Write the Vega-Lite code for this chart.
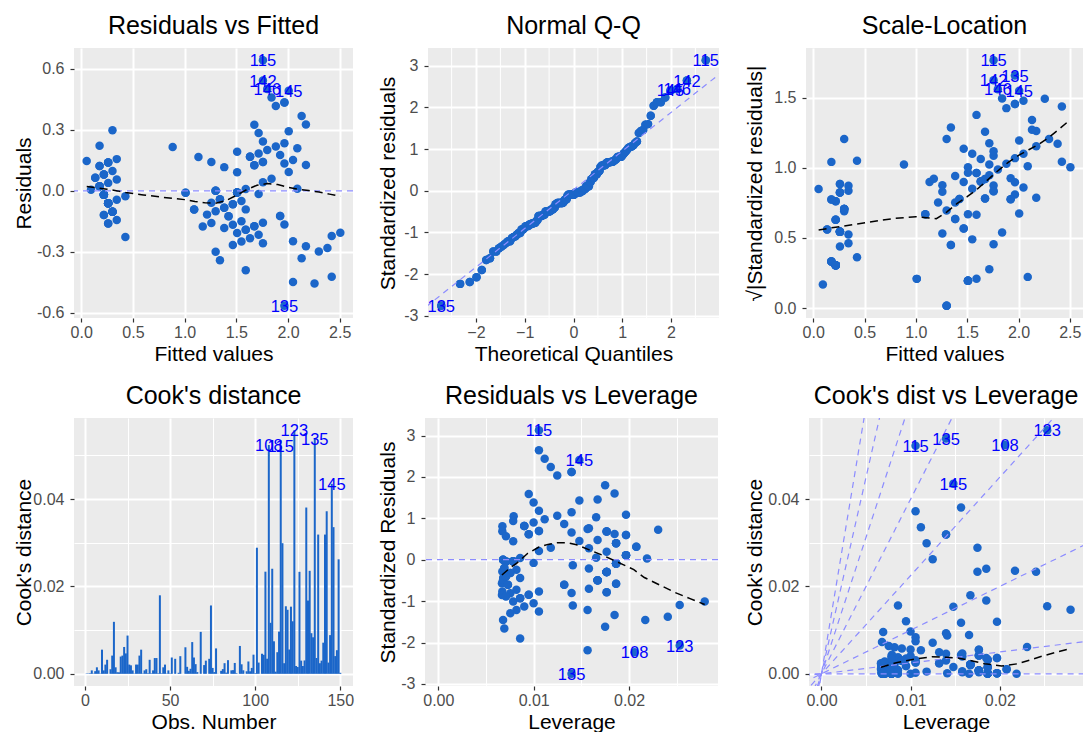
{
"$schema": "https://vega.github.io/schema/vega-lite/v6.json",
"padding": {"left": 12, "top": 13, "right": 3, "bottom": 0},
"background": "white",
"config": {
  "font": "Liberation Sans",
  "view": {"fill": "#EBEBEB", "stroke": null},
  "title": {"font": "Liberation Sans", "fontSize": 25, "fontWeight": "normal", "color": "#000000", "anchor": "middle", "frame": "group", "baseline": "alphabetic", "offset": 9},
  "axis": {"labelFont": "Liberation Sans", "labelFontSize": 16, "labelColor": "#4D4D4D", "tickColor": "#333333", "tickSize": 4, "tickWidth": 1.2, "domain": false, "grid": true, "gridColor": "#FFFFFF", "titleFont": "Liberation Sans", "titleFontSize": 21, "titleFontWeight": "normal", "titleColor": "#000000", "labelOverlap": false, "labelFlush": false, "labelBound": false, "titleBaseline": "alphabetic"},
  "axisX": {"labelPadding": 2, "titleY": 42},
  "axisY": {"labelPadding": 6}
},
"datasets": {
"obs": [
{"i":1,"f":0.219,"e":-0.019,"r":-0.0928,"s":0.3046,"h":0.01864,"c":0.000082},
{"i":2,"f":0.219,"e":-0.019,"r":-0.0928,"s":0.3046,"h":0.01864,"c":0.000082},
{"i":3,"f":0.1774,"e":0.0226,"r":0.1105,"s":0.3324,"h":0.01968,"c":0.000123},
{"i":4,"f":0.2606,"e":-0.0606,"r":-0.2959,"s":0.544,"h":0.01765,"c":0.000786},
{"i":5,"f":0.219,"e":-0.019,"r":-0.0928,"s":0.3046,"h":0.01864,"c":0.000082},
{"i":6,"f":0.3437,"e":0.0563,"r":0.2748,"s":0.5242,"h":0.01579,"c":0.000606},
{"i":7,"f":0.219,"e":0.081,"r":0.3961,"s":0.6294,"h":0.01864,"c":0.00149},
{"i":8,"f":0.2606,"e":-0.0606,"r":-0.2959,"s":0.544,"h":0.01765,"c":0.000786},
{"i":9,"f":0.219,"e":-0.019,"r":-0.0928,"s":0.3046,"h":0.01864,"c":0.000082},
{"i":10,"f":0.2606,"e":-0.1606,"r":-0.7845,"s":0.8857,"h":0.01765,"c":0.005528},
{"i":11,"f":0.2606,"e":-0.0606,"r":-0.2959,"s":0.544,"h":0.01765,"c":0.000786},
{"i":12,"f":0.3021,"e":-0.1021,"r":-0.4988,"s":0.7063,"h":0.0167,"c":0.002112},
{"i":13,"f":0.219,"e":-0.119,"r":-0.5816,"s":0.7626,"h":0.01864,"c":0.003213},
{"i":14,"f":0.0943,"e":0.0057,"r":0.0281,"s":0.1676,"h":0.02188,"c":0.000009},
{"i":15,"f":0.1358,"e":0.0642,"r":0.314,"s":0.5604,"h":0.02076,"c":0.001045},
{"i":16,"f":0.2606,"e":0.1394,"r":0.6813,"s":0.8254,"h":0.01765,"c":0.00417},
{"i":17,"f":0.1774,"e":0.2226,"r":1.0887,"s":1.0434,"h":0.01968,"c":0.011897},
{"i":18,"f":0.219,"e":0.081,"r":0.3961,"s":0.6294,"h":0.01864,"c":0.00149},
{"i":19,"f":0.3437,"e":-0.0437,"r":-0.2134,"s":0.462,"h":0.01579,"c":0.000365},
{"i":20,"f":0.2606,"e":0.0394,"r":0.1927,"s":0.439,"h":0.01765,"c":0.000334},
{"i":21,"f":0.3437,"e":-0.1437,"r":-0.7015,"s":0.8376,"h":0.01579,"c":0.003947},
{"i":22,"f":0.2606,"e":0.1394,"r":0.6813,"s":0.8254,"h":0.01765,"c":0.00417},
{"i":23,"f":0.0527,"e":0.1473,"r":0.7218,"s":0.8496,"h":0.02305,"c":0.006145},
{"i":24,"f":0.3437,"e":0.1563,"r":0.7629,"s":0.8734,"h":0.01579,"c":0.004668},
{"i":25,"f":0.4269,"e":-0.2269,"r":-1.1064,"s":1.0519,"h":0.0141,"c":0.008755},
{"i":26,"f":0.3021,"e":-0.1021,"r":-0.4988,"s":0.7063,"h":0.0167,"c":0.002112},
{"i":27,"f":0.3021,"e":0.0979,"r":0.4779,"s":0.6913,"h":0.0167,"c":0.001939},
{"i":28,"f":0.2606,"e":-0.0606,"r":-0.2959,"s":0.544,"h":0.01765,"c":0.000786},
{"i":29,"f":0.219,"e":-0.019,"r":-0.0928,"s":0.3046,"h":0.01864,"c":0.000082},
{"i":30,"f":0.3021,"e":-0.1021,"r":-0.4988,"s":0.7063,"h":0.0167,"c":0.002112},
{"i":31,"f":0.3021,"e":-0.1021,"r":-0.4988,"s":0.7063,"h":0.0167,"c":0.002112},
{"i":32,"f":0.2606,"e":0.1394,"r":0.6813,"s":0.8254,"h":0.01765,"c":0.00417},
{"i":33,"f":0.2606,"e":-0.1606,"r":-0.7845,"s":0.8857,"h":0.01765,"c":0.005528},
{"i":34,"f":0.219,"e":-0.019,"r":-0.0928,"s":0.3046,"h":0.01864,"c":0.000082},
{"i":35,"f":0.2606,"e":-0.0606,"r":-0.2959,"s":0.544,"h":0.01765,"c":0.000786},
{"i":36,"f":0.1358,"e":0.0642,"r":0.314,"s":0.5604,"h":0.02076,"c":0.001045},
{"i":37,"f":0.1774,"e":0.0226,"r":0.1105,"s":0.3324,"h":0.01968,"c":0.000123},
{"i":38,"f":0.219,"e":-0.119,"r":-0.5816,"s":0.7626,"h":0.01864,"c":0.003213},
{"i":39,"f":0.1774,"e":0.0226,"r":0.1105,"s":0.3324,"h":0.01968,"c":0.000123},
{"i":40,"f":0.2606,"e":-0.0606,"r":-0.2959,"s":0.544,"h":0.01765,"c":0.000786},
{"i":41,"f":0.1774,"e":0.1226,"r":0.5996,"s":0.7743,"h":0.01968,"c":0.003609},
{"i":42,"f":0.1774,"e":0.1226,"r":0.5996,"s":0.7743,"h":0.01968,"c":0.003609},
{"i":43,"f":0.1774,"e":0.0226,"r":0.1105,"s":0.3324,"h":0.01968,"c":0.000123},
{"i":44,"f":0.3021,"e":0.2979,"r":1.4547,"s":1.2061,"h":0.0167,"c":0.017965},
{"i":45,"f":0.4269,"e":-0.0269,"r":-0.131,"s":0.3619,"h":0.0141,"c":0.000123},
{"i":46,"f":0.219,"e":0.081,"r":0.3961,"s":0.6294,"h":0.01864,"c":0.00149},
{"i":47,"f":0.3021,"e":-0.1021,"r":-0.4988,"s":0.7063,"h":0.0167,"c":0.002112},
{"i":48,"f":0.219,"e":-0.019,"r":-0.0928,"s":0.3046,"h":0.01864,"c":0.000082},
{"i":49,"f":0.2606,"e":-0.0606,"r":-0.2959,"s":0.544,"h":0.01765,"c":0.000786},
{"i":50,"f":0.219,"e":-0.019,"r":-0.0928,"s":0.3046,"h":0.01864,"c":0.000082},
{"i":51,"f":1.591,"e":-0.191,"r":-0.9288,"s":0.9638,"h":0.00858,"c":0.003732},
{"i":52,"f":1.5078,"e":-0.0078,"r":-0.038,"s":0.1949,"h":0.00785,"c":0.000006},
{"i":53,"f":1.6741,"e":-0.1741,"r":-0.8473,"s":0.9205,"h":0.00948,"c":0.003433},
{"i":54,"f":1.2999,"e":0.0001,"r":0.0003,"s":0.0163,"h":0.00679,"c":0},
{"i":55,"f":1.5494,"e":-0.0494,"r":-0.2402,"s":0.4901,"h":0.00819,"c":0.000238},
{"i":56,"f":1.5078,"e":-0.2078,"r":-1.0104,"s":1.0052,"h":0.00785,"c":0.00404},
{"i":57,"f":1.591,"e":0.009,"r":0.0439,"s":0.2095,"h":0.00858,"c":0.000008},
{"i":58,"f":1.0089,"e":-0.0089,"r":-0.0433,"s":0.2081,"h":0.00712,"c":0.000007},
{"i":59,"f":1.5494,"e":-0.2494,"r":-1.2127,"s":1.1012,"h":0.00819,"c":0.006075},
{"i":60,"f":1.2584,"e":0.1416,"r":0.6882,"s":0.8296,"h":0.00671,"c":0.001599},
{"i":61,"f":1.0921,"e":-0.0921,"r":-0.4474,"s":0.6689,"h":0.00681,"c":0.000686},
{"i":62,"f":1.3831,"e":0.1169,"r":0.5681,"s":0.7537,"h":0.00709,"c":0.001152},
{"i":63,"f":1.2999,"e":-0.2999,"r":-1.4575,"s":1.2073,"h":0.00679,"c":0.007265},
{"i":64,"f":1.591,"e":-0.191,"r":-0.9288,"s":0.9638,"h":0.00858,"c":0.003732},
{"i":65,"f":1.1336,"e":0.1664,"r":0.8083,"s":0.8991,"h":0.00672,"c":0.00221},
{"i":66,"f":1.4662,"e":-0.0662,"r":-0.322,"s":0.5675,"h":0.00755,"c":0.000395},
{"i":67,"f":1.5078,"e":-0.0078,"r":-0.038,"s":0.1949,"h":0.00785,"c":0.000006},
{"i":68,"f":1.3415,"e":-0.3415,"r":-1.6596,"s":1.2883,"h":0.00692,"c":0.009596},
{"i":69,"f":1.5078,"e":-0.0078,"r":-0.038,"s":0.1949,"h":0.00785,"c":0.000006},
{"i":70,"f":1.2584,"e":-0.1584,"r":-0.7695,"s":0.8772,"h":0.00671,"c":0.002},
{"i":71,"f":1.6325,"e":0.1675,"r":0.8146,"s":0.9026,"h":0.00901,"c":0.003014},
{"i":72,"f":1.2999,"e":0.0001,"r":0.0003,"s":0.0163,"h":0.00679,"c":0},
{"i":73,"f":1.6741,"e":-0.1741,"r":-0.8473,"s":0.9205,"h":0.00948,"c":0.003433},
{"i":74,"f":1.591,"e":-0.391,"r":-1.9015,"s":1.379,"h":0.00858,"c":0.015642},
{"i":75,"f":1.4247,"e":-0.1247,"r":-0.606,"s":0.7785,"h":0.0073,"c":0.00135},
{"i":76,"f":1.4662,"e":-0.0662,"r":-0.322,"s":0.5675,"h":0.00755,"c":0.000395},
{"i":77,"f":1.6325,"e":-0.2325,"r":-1.1313,"s":1.0636,"h":0.00901,"c":0.005814},
{"i":78,"f":1.7157,"e":-0.0157,"r":-0.0764,"s":0.2764,"h":0.00999,"c":0.000029},
{"i":79,"f":1.5078,"e":-0.0078,"r":-0.038,"s":0.1949,"h":0.00785,"c":0.000006},
{"i":80,"f":1.0921,"e":-0.0921,"r":-0.4474,"s":0.6689,"h":0.00681,"c":0.000686},
{"i":81,"f":1.2168,"e":-0.1168,"r":-0.5675,"s":0.7533,"h":0.00667,"c":0.001081},
{"i":82,"f":1.1752,"e":-0.1752,"r":-0.8514,"s":0.9227,"h":0.00667,"c":0.002435},
{"i":83,"f":1.2584,"e":-0.0584,"r":-0.2836,"s":0.5325,"h":0.00671,"c":0.000272},
{"i":84,"f":1.7573,"e":-0.1573,"r":-0.7657,"s":0.875,"h":0.01055,"c":0.003124},
{"i":85,"f":1.5078,"e":-0.0078,"r":-0.038,"s":0.1949,"h":0.00785,"c":0.000006},
{"i":86,"f":1.5078,"e":0.0922,"r":0.4481,"s":0.6694,"h":0.00785,"c":0.000795},
{"i":87,"f":1.591,"e":-0.091,"r":-0.4425,"s":0.6652,"h":0.00858,"c":0.000847},
{"i":88,"f":1.4662,"e":-0.1662,"r":-0.8081,"s":0.8989,"h":0.00755,"c":0.002486},
{"i":89,"f":1.3415,"e":-0.0415,"r":-0.2018,"s":0.4492,"h":0.00692,"c":0.000142},
{"i":90,"f":1.2999,"e":0.0001,"r":0.0003,"s":0.0163,"h":0.00679,"c":0},
{"i":91,"f":1.4662,"e":-0.2662,"r":-1.2942,"s":1.1376,"h":0.00755,"c":0.006375},
{"i":92,"f":1.5494,"e":-0.1494,"r":-0.7265,"s":0.8524,"h":0.00819,"c":0.00218},
{"i":93,"f":1.2999,"e":-0.0999,"r":-0.4857,"s":0.6969,"h":0.00679,"c":0.000807},
{"i":94,"f":1.0089,"e":-0.0089,"r":-0.0433,"s":0.2081,"h":0.00712,"c":0.000007},
{"i":95,"f":1.3831,"e":-0.0831,"r":-0.4038,"s":0.6355,"h":0.00709,"c":0.000582},
{"i":96,"f":1.3831,"e":-0.1831,"r":-0.8898,"s":0.9433,"h":0.00709,"c":0.002826},
{"i":97,"f":1.3831,"e":-0.0831,"r":-0.4038,"s":0.6355,"h":0.00709,"c":0.000582},
{"i":98,"f":1.4247,"e":-0.1247,"r":-0.606,"s":0.7785,"h":0.0073,"c":0.00135},
{"i":99,"f":0.8842,"e":0.2158,"r":1.0492,"s":1.0243,"h":0.0079,"c":0.004385},
{"i":100,"f":1.3415,"e":-0.0415,"r":-0.2018,"s":0.4492,"h":0.00692,"c":0.000142},
{"i":101,"f":2.1315,"e":0.3685,"r":1.8005,"s":1.3418,"h":0.01749,"c":0.02886},
{"i":102,"f":1.7573,"e":0.1427,"r":0.6948,"s":0.8335,"h":0.01055,"c":0.002573},
{"i":103,"f":2.0899,"e":0.0101,"r":0.0494,"s":0.2223,"h":0.01655,"c":0.000021},
{"i":104,"f":1.9652,"e":-0.1652,"r":-0.8054,"s":0.8974,"h":0.01397,"c":0.004597},
{"i":105,"f":2.0483,"e":0.1517,"r":0.7404,"s":0.8605,"h":0.01565,"c":0.004357},
{"i":106,"f":2.3809,"e":-0.2809,"r":-1.377,"s":1.1735,"h":0.02406,"c":0.023375},
{"i":107,"f":1.5078,"e":0.1922,"r":0.9343,"s":0.9666,"h":0.00785,"c":0.003454},
{"i":108,"f":2.2562,"e":-0.4562,"r":-2.2322,"s":1.4941,"h":0.02058,"c":0.052358,"lc":"108"},
{"i":109,"f":2.0483,"e":-0.2483,"r":-1.212,"s":1.1009,"h":0.01565,"c":0.011674},
{"i":110,"f":2.173,"e":0.327,"r":1.5982,"s":1.2642,"h":0.01848,"c":0.024046},
{"i":111,"f":1.7573,"e":0.2427,"r":1.1817,"s":1.0871,"h":0.01055,"c":0.007441},
{"i":112,"f":1.8404,"e":0.0596,"r":0.2902,"s":0.5387,"h":0.01179,"c":0.000502},
{"i":113,"f":1.9236,"e":0.1764,"r":0.86,"s":0.9274,"h":0.0132,"c":0.004948},
{"i":114,"f":1.7157,"e":0.2843,"r":1.3837,"s":1.1763,"h":0.00999,"c":0.009659},
{"i":115,"f":1.7573,"e":0.6427,"r":3.129,"s":1.7689,"h":0.01055,"c":0.052175,"lr":"115","lc":"115"},
{"i":116,"f":1.8404,"e":0.4596,"r":2.2388,"s":1.4963,"h":0.01179,"c":0.029892},
{"i":117,"f":1.9236,"e":-0.1236,"r":-0.6024,"s":0.7761,"h":0.0132,"c":0.002428},
{"i":118,"f":2.4225,"e":-0.2225,"r":-1.0913,"s":1.0447,"h":0.02531,"c":0.015462},
{"i":119,"f":2.5056,"e":-0.2056,"r":-1.01,"s":1.005,"h":0.02793,"c":0.014654},
{"i":120,"f":1.7157,"e":-0.2157,"r":-1.0498,"s":1.0246,"h":0.00999,"c":0.00556},
{"i":121,"f":2.0067,"e":0.2933,"r":1.4308,"s":1.1962,"h":0.01479,"c":0.015367},
{"i":122,"f":1.6741,"e":0.3259,"r":1.5856,"s":1.2592,"h":0.00948,"c":0.012025},
{"i":123,"f":2.4225,"e":-0.4225,"r":-2.0723,"s":1.4396,"h":0.02531,"c":0.055755,"lc":"123"},
{"i":124,"f":1.6741,"e":0.1259,"r":0.6125,"s":0.7826,"h":0.00948,"c":0.001794},
{"i":125,"f":2.0067,"e":0.0933,"r":0.4551,"s":0.6746,"h":0.01479,"c":0.001554},
{"i":126,"f":2.1315,"e":-0.3315,"r":-1.6193,"s":1.2725,"h":0.01749,"c":0.023343},
{"i":127,"f":1.6325,"e":0.1675,"r":0.8146,"s":0.9026,"h":0.00901,"c":0.003014},
{"i":128,"f":1.6741,"e":0.1259,"r":0.6125,"s":0.7826,"h":0.00948,"c":0.001794},
{"i":129,"f":1.9652,"e":0.1348,"r":0.6576,"s":0.8109,"h":0.01397,"c":0.003064},
{"i":130,"f":2.0483,"e":-0.4483,"r":-2.1882,"s":1.4793,"h":0.01565,"c":0.038055},
{"i":131,"f":2.173,"e":-0.273,"r":-1.3346,"s":1.1553,"h":0.01848,"c":0.016767},
{"i":132,"f":2.2978,"e":-0.2978,"r":-1.4578,"s":1.2074,"h":0.0217,"c":0.023571},
{"i":133,"f":1.9652,"e":0.2348,"r":1.1453,"s":1.0702,"h":0.01397,"c":0.009295},
{"i":134,"f":1.7573,"e":-0.2573,"r":-1.2525,"s":1.1192,"h":0.01055,"c":0.00836},
{"i":135,"f":1.9652,"e":-0.5652,"r":-2.7561,"s":1.6601,"h":0.01397,"c":0.053827,"lr":"135","lc":"135"},
{"i":136,"f":2.173,"e":0.127,"r":0.6206,"s":0.7878,"h":0.01848,"c":0.003626},
{"i":137,"f":1.9652,"e":0.4348,"r":2.1207,"s":1.4563,"h":0.01397,"c":0.031867},
{"i":138,"f":1.9236,"e":-0.1236,"r":-0.6024,"s":0.7761,"h":0.0132,"c":0.002428},
{"i":139,"f":1.6325,"e":0.1675,"r":0.8146,"s":0.9026,"h":0.00901,"c":0.003014},
{"i":140,"f":1.882,"e":0.218,"r":1.0623,"s":1.0307,"h":0.01247,"c":0.007127},
{"i":141,"f":1.9652,"e":0.4348,"r":2.1207,"s":1.4563,"h":0.01397,"c":0.031867},
{"i":142,"f":1.7573,"e":0.5427,"r":2.6422,"s":1.6255,"h":0.01055,"c":0.037202,"lr":"142"},
{"i":143,"f":1.7573,"e":0.1427,"r":0.6948,"s":0.8335,"h":0.01055,"c":0.002573},
{"i":144,"f":2.0899,"e":0.2101,"r":1.0261,"s":1.013,"h":0.01655,"c":0.008857},
{"i":145,"f":2.0067,"e":0.4933,"r":2.4066,"s":1.5513,"h":0.01479,"c":0.043472,"lr":"145","lc":"145"},
{"i":146,"f":1.7989,"e":0.5011,"r":2.4405,"s":1.5622,"h":0.01115,"c":0.033563,"lr":"146"},
{"i":147,"f":1.7157,"e":0.1843,"r":0.897,"s":0.9471,"h":0.00999,"c":0.004059},
{"i":148,"f":1.7989,"e":0.2011,"r":0.9796,"s":0.9897,"h":0.01115,"c":0.005407},
{"i":149,"f":1.882,"e":0.418,"r":2.0369,"s":1.4272,"h":0.01247,"c":0.026202},
{"i":150,"f":1.7573,"e":0.0427,"r":0.208,"s":0.4561,"h":0.01055,"c":0.000231}
],
"qq": [
{"tq":-2.713,"sv":-2.7561,"l":"135"},{"tq":-2.326,"sv":-2.2322},{"tq":-2.128,"sv":-2.1882},{"tq":-1.989,"sv":-2.0723},{"tq":-1.881,"sv":-1.9015},
{"tq":-1.791,"sv":-1.6596},{"tq":-1.713,"sv":-1.6193},{"tq":-1.645,"sv":-1.4578},{"tq":-1.583,"sv":-1.4575},{"tq":-1.528,"sv":-1.377},
{"tq":-1.476,"sv":-1.3346},{"tq":-1.428,"sv":-1.2942},{"tq":-1.383,"sv":-1.2525},{"tq":-1.341,"sv":-1.2127},{"tq":-1.301,"sv":-1.212},
{"tq":-1.263,"sv":-1.1313},{"tq":-1.227,"sv":-1.1064},{"tq":-1.192,"sv":-1.0913},{"tq":-1.158,"sv":-1.0498},{"tq":-1.126,"sv":-1.0104},
{"tq":-1.095,"sv":-1.01},{"tq":-1.065,"sv":-0.9288},{"tq":-1.036,"sv":-0.9288},{"tq":-1.008,"sv":-0.8898},{"tq":-0.981,"sv":-0.8514},
{"tq":-0.954,"sv":-0.8473},{"tq":-0.928,"sv":-0.8473},{"tq":-0.903,"sv":-0.8081},{"tq":-0.878,"sv":-0.8054},{"tq":-0.854,"sv":-0.7845},
{"tq":-0.83,"sv":-0.7845},{"tq":-0.806,"sv":-0.7695},{"tq":-0.784,"sv":-0.7657},{"tq":-0.761,"sv":-0.7265},{"tq":-0.739,"sv":-0.7015},
{"tq":-0.717,"sv":-0.606},{"tq":-0.696,"sv":-0.606},{"tq":-0.674,"sv":-0.6024},{"tq":-0.654,"sv":-0.6024},{"tq":-0.633,"sv":-0.5816},
{"tq":-0.613,"sv":-0.5816},{"tq":-0.593,"sv":-0.5675},{"tq":-0.573,"sv":-0.4988},{"tq":-0.553,"sv":-0.4988},{"tq":-0.534,"sv":-0.4988},
{"tq":-0.515,"sv":-0.4988},{"tq":-0.496,"sv":-0.4988},{"tq":-0.477,"sv":-0.4857},{"tq":-0.459,"sv":-0.4474},{"tq":-0.44,"sv":-0.4474},
{"tq":-0.421,"sv":-0.4425},{"tq":-0.403,"sv":-0.4038},{"tq":-0.385,"sv":-0.4038},{"tq":-0.367,"sv":-0.322},{"tq":-0.349,"sv":-0.322},
{"tq":-0.332,"sv":-0.2959},{"tq":-0.314,"sv":-0.2959},{"tq":-0.297,"sv":-0.2959},{"tq":-0.279,"sv":-0.2959},{"tq":-0.262,"sv":-0.2959},
{"tq":-0.244,"sv":-0.2959},{"tq":-0.228,"sv":-0.2959},{"tq":-0.21,"sv":-0.2836},{"tq":-0.193,"sv":-0.2402},{"tq":-0.176,"sv":-0.2134},
{"tq":-0.159,"sv":-0.2018},{"tq":-0.142,"sv":-0.2018},{"tq":-0.126,"sv":-0.131},{"tq":-0.109,"sv":-0.0928},{"tq":-0.092,"sv":-0.0928},
{"tq":-0.075,"sv":-0.0928},{"tq":-0.059,"sv":-0.0928},{"tq":-0.042,"sv":-0.0928},{"tq":-0.025,"sv":-0.0928},{"tq":-0.008,"sv":-0.0928},
{"tq":0.008,"sv":-0.0928},{"tq":0.025,"sv":-0.0764},{"tq":0.042,"sv":-0.0433},{"tq":0.059,"sv":-0.0433},{"tq":0.075,"sv":-0.038},
{"tq":0.092,"sv":-0.038},{"tq":0.109,"sv":-0.038},{"tq":0.126,"sv":-0.038},{"tq":0.142,"sv":-0.038},{"tq":0.159,"sv":0.0003},
{"tq":0.176,"sv":0.0003},{"tq":0.193,"sv":0.0003},{"tq":0.21,"sv":0.0281},{"tq":0.228,"sv":0.0439},{"tq":0.244,"sv":0.0494},
{"tq":0.262,"sv":0.1105},{"tq":0.279,"sv":0.1105},{"tq":0.297,"sv":0.1105},{"tq":0.314,"sv":0.1105},{"tq":0.332,"sv":0.1927},
{"tq":0.349,"sv":0.208},{"tq":0.367,"sv":0.2748},{"tq":0.385,"sv":0.2902},{"tq":0.403,"sv":0.314},{"tq":0.421,"sv":0.314},
{"tq":0.44,"sv":0.3961},{"tq":0.459,"sv":0.3961},{"tq":0.477,"sv":0.3961},{"tq":0.496,"sv":0.4481},{"tq":0.515,"sv":0.4551},
{"tq":0.534,"sv":0.4779},{"tq":0.553,"sv":0.5681},{"tq":0.573,"sv":0.5996},{"tq":0.593,"sv":0.5996},{"tq":0.613,"sv":0.6125},
{"tq":0.633,"sv":0.6125},{"tq":0.654,"sv":0.6206},{"tq":0.674,"sv":0.6576},{"tq":0.696,"sv":0.6813},{"tq":0.717,"sv":0.6813},
{"tq":0.739,"sv":0.6813},{"tq":0.761,"sv":0.6882},{"tq":0.784,"sv":0.6948},{"tq":0.806,"sv":0.6948},{"tq":0.83,"sv":0.7218},
{"tq":0.854,"sv":0.7404},{"tq":0.878,"sv":0.7629},{"tq":0.903,"sv":0.8083},{"tq":0.928,"sv":0.8146},{"tq":0.954,"sv":0.8146},
{"tq":0.981,"sv":0.8146},{"tq":1.008,"sv":0.86},{"tq":1.036,"sv":0.897},{"tq":1.065,"sv":0.9343},{"tq":1.095,"sv":0.9796},
{"tq":1.126,"sv":1.0261},{"tq":1.158,"sv":1.0492},{"tq":1.192,"sv":1.0623},{"tq":1.227,"sv":1.0887},{"tq":1.263,"sv":1.1453},
{"tq":1.301,"sv":1.1817},{"tq":1.341,"sv":1.3837},{"tq":1.383,"sv":1.4308},{"tq":1.428,"sv":1.4547},{"tq":1.476,"sv":1.5856},
{"tq":1.528,"sv":1.5982},{"tq":1.583,"sv":1.8005},{"tq":1.645,"sv":2.0369},{"tq":1.713,"sv":2.1207},{"tq":1.791,"sv":2.1207},
{"tq":1.881,"sv":2.2388},{"tq":1.989,"sv":2.4066,"l":"145"},{"tq":2.128,"sv":2.4405,"l":"146"},{"tq":2.326,"sv":2.6422,"l":"142"},{"tq":2.713,"sv":3.129,"l":"115"}
],
"qqline": [{"lx":-3.2,"ly":-2.944},{"lx":3.2,"ly":2.99}],
"s1": [{"x":0.053,"y":0.021},{"x":0.15,"y":0.015},{"x":0.25,"y":0.008},{"x":0.35,"y":0.0},{"x":0.43,"y":-0.008},{"x":0.6,"y":-0.02},{"x":0.8,"y":-0.032},{"x":1.0,"y":-0.043},{"x":1.1,"y":-0.052},{"x":1.2,"y":-0.059},{"x":1.3,"y":-0.061},{"x":1.4,"y":-0.048},{"x":1.5,"y":-0.022},{"x":1.6,"y":0.006},{"x":1.7,"y":0.028},{"x":1.8,"y":0.036},{"x":1.9,"y":0.031},{"x":2.0,"y":0.018},{"x":2.1,"y":0.008},{"x":2.2,"y":0.002},{"x":2.3,"y":-0.006},{"x":2.4,"y":-0.016},{"x":2.5056,"y":-0.027}],
"s3": [{"x":0.053,"y":0.557},{"x":0.2,"y":0.575},{"x":0.43,"y":0.6},{"x":0.6,"y":0.62},{"x":0.8,"y":0.64},{"x":1.0,"y":0.652},{"x":1.1,"y":0.645},{"x":1.2,"y":0.638},{"x":1.3,"y":0.685},{"x":1.4,"y":0.745},{"x":1.5,"y":0.795},{"x":1.6,"y":0.85},{"x":1.7,"y":0.915},{"x":1.8,"y":0.98},{"x":1.9,"y":1.04},{"x":2.0,"y":1.09},{"x":2.1,"y":1.13},{"x":2.2,"y":1.17},{"x":2.3,"y":1.22},{"x":2.4,"y":1.28},{"x":2.5056,"y":1.345}],
"s5": [{"x":0.00667,"y":-0.37},{"x":0.0075,"y":-0.2},{"x":0.0083,"y":-0.07},{"x":0.00935,"y":0.15},{"x":0.0105,"y":0.3},{"x":0.0115,"y":0.37},{"x":0.0125,"y":0.41},{"x":0.0135,"y":0.41},{"x":0.0145,"y":0.36},{"x":0.0157,"y":0.25},{"x":0.0174,"y":0.09},{"x":0.0192,"y":-0.1},{"x":0.0205,"y":-0.24},{"x":0.0216,"y":-0.43},{"x":0.0232,"y":-0.61},{"x":0.0248,"y":-0.79},{"x":0.0264,"y":-0.94},{"x":0.02793,"y":-1.08}],
"s6": [{"x":0.00667,"y":0.0015},{"x":0.0085,"y":0.0026},{"x":0.0105,"y":0.0034},{"x":0.0124,"y":0.0039},{"x":0.014,"y":0.0038},{"x":0.0153,"y":0.0036},{"x":0.0168,"y":0.003},{"x":0.0183,"y":0.0023},{"x":0.0202,"y":0.0018},{"x":0.022,"y":0.0023},{"x":0.025,"y":0.0042},{"x":0.02793,"y":0.0058}],
"cl": [
{"b":"0","h":-0.002,"c":0},{"b":"0","h":0.031,"c":0},
{"b":"0.5","h":-0.002,"c":-0.0005},{"b":"0.5","h":0.031,"c":0.00775},
{"b":"1","h":-0.002,"c":-0.002},{"b":"1","h":0.031,"c":0.031},
{"b":"1.5","h":-0.002,"c":-0.0045},{"b":"1.5","h":0.031,"c":0.06975},
{"b":"2","h":-0.002,"c":-0.008},{"b":"2","h":0.031,"c":0.124},
{"b":"2.5","h":-0.002,"c":-0.0125},{"b":"2.5","h":0.031,"c":0.19375},
{"b":"3","h":-0.002,"c":-0.018},{"b":"3","h":0.031,"c":0.279},
{"b":"3.5","h":-0.002,"c":-0.0245},{"b":"3.5","h":0.031,"c":0.37975}
]
},
"spacing": 20,
"vconcat": [
{
"hconcat": [
{
"width": 279, "height": 270,
"title": "Residuals vs Fitted",
"layer": [
{"data": {"name": "obs"}, "mark": {"type": "circle", "size": 72, "color": "#1B66C9", "opacity": 1},
 "encoding": {
  "x": {"field": "f", "type": "quantitative", "title": "Fitted values", "scale": {"domain": [-0.07, 2.6283], "nice": false, "zero": false},
        "axis": {"values": [0,0.25,0.5,0.75,1,1.25,1.5,1.75,2,2.25,2.5], "labelOverlap": false,
                 "labelExpr": "indexof([0.25,0.75,1.25,1.75,2.25], datum.value) >= 0 ? '' : format(datum.value, '.1f')",
                 "gridWidth": {"condition": {"test": "indexof([0.25,0.75,1.25,1.75,2.25], datum.value) >= 0", "value": 1}, "value": 2},
                 "tickOpacity": {"condition": {"test": "indexof([0.25,0.75,1.25,1.75,2.25], datum.value) >= 0", "value": 0}, "value": 1}}},
  "y": {"field": "e", "type": "quantitative", "title": "Residuals", "scale": {"domain": [-0.6255, 0.7031], "nice": false, "zero": false},
        "axis": {"values": [-0.6,-0.45,-0.3,-0.15,0,0.15,0.3,0.45,0.6], "titleX": -44, "labelOverlap": false,
                 "labelExpr": "indexof([-0.45,-0.15,0.15,0.45], datum.value) >= 0 ? '' : replace(format(datum.value, '.1f'), '\u2212', '-')",
                 "gridWidth": {"condition": {"test": "indexof([-0.45,-0.15,0.15,0.45], datum.value) >= 0", "value": 1}, "value": 2},
                 "tickOpacity": {"condition": {"test": "indexof([-0.45,-0.15,0.15,0.45], datum.value) >= 0", "value": 0}, "value": 1}}}
 }},
{"data": {"values": [{}]}, "mark": {"type": "rule", "color": "#8C8CFF", "strokeDash": [6,5], "strokeWidth": 1.2},
 "encoding": {"y": {"datum": 0, "type": "quantitative", "scale": {"domain": [-0.6255, 0.7031], "nice": false, "zero": false}}}},
{"data": {"name": "s1"}, "mark": {"type": "line", "color": "#000000", "strokeDash": [8,5], "strokeWidth": 1.5},
 "encoding": {
  "x": {"field": "x", "type": "quantitative", "title": "Fitted values", "scale": {"domain": [-0.07, 2.6283], "nice": false, "zero": false}},
  "y": {"field": "y", "type": "quantitative", "title": "Residuals", "scale": {"domain": [-0.6255, 0.7031], "nice": false, "zero": false}}}},
{"data": {"name": "obs"}, "transform": [{"filter": {"field": "lr", "valid": true}}],
 "mark": {"type": "text", "color": "#0000FF", "fontSize": 16.5, "font": "Liberation Sans", "align": "center", "baseline": "middle", "dy": 1},
 "encoding": {
  "x": {"field": "f", "type": "quantitative", "title": "Fitted values", "scale": {"domain": [-0.07, 2.6283], "nice": false, "zero": false}},
  "y": {"field": "e", "type": "quantitative", "title": "Residuals", "scale": {"domain": [-0.6255, 0.7031], "nice": false, "zero": false}},
  "text": {"field": "lr"}}}
]
},
{"width": 75, "height": 270, "view": {"fill": "white", "stroke": null}, "data": {"values": [{}]}, "mark": {"type": "point", "opacity": 0}},
{
"width": 291, "height": 270,
"title": "Normal Q-Q",
"layer": [
{"data": {"name": "qq"}, "mark": {"type": "circle", "size": 72, "color": "#1B66C9", "opacity": 1},
 "encoding": {
  "x": {"field": "tq", "type": "quantitative", "title": "Theoretical Quantiles", "scale": {"domain": [-2.9844, 2.9844], "nice": false, "zero": false},
        "axis": {"values": [-2,-1,0,1,2], "format": "d", "gridWidth": 2}},
  "y": {"field": "sv", "type": "quantitative", "title": "Standardized residuals", "scale": {"domain": [-3.0504, 3.4233], "nice": false, "zero": false},
        "axis": {"values": [-3,-2.5,-2,-1.5,-1,-0.5,0,0.5,1,1.5,2,2.5,3], "titleX": -34, "labelOverlap": false,
                 "labelExpr": "indexof([-2.5,-1.5,-0.5,0.5,1.5,2.5], datum.value) >= 0 ? '' : replace(format(datum.value, 'd'), '\u2212', '-')",
                 "gridWidth": {"condition": {"test": "indexof([-2.5,-1.5,-0.5,0.5,1.5,2.5], datum.value) >= 0", "value": 1}, "value": 2},
                 "tickOpacity": {"condition": {"test": "indexof([-2.5,-1.5,-0.5,0.5,1.5,2.5], datum.value) >= 0", "value": 0}, "value": 1}}}
 }},
{"data": {"values": [{}]}, "mark": {"type": "rule", "color": "#FFFFFF", "strokeWidth": 1}, "encoding": {"x": {"datum": -2.5, "type": "quantitative", "scale": {"domain": [-2.9844, 2.9844], "nice": false, "zero": false}}}},
{"data": {"values": [{}]}, "mark": {"type": "rule", "color": "#FFFFFF", "strokeWidth": 1}, "encoding": {"x": {"datum": -1.5, "type": "quantitative", "scale": {"domain": [-2.9844, 2.9844], "nice": false, "zero": false}}}},
{"data": {"values": [{}]}, "mark": {"type": "rule", "color": "#FFFFFF", "strokeWidth": 1}, "encoding": {"x": {"datum": -0.5, "type": "quantitative", "scale": {"domain": [-2.9844, 2.9844], "nice": false, "zero": false}}}},
{"data": {"values": [{}]}, "mark": {"type": "rule", "color": "#FFFFFF", "strokeWidth": 1}, "encoding": {"x": {"datum": 0.5, "type": "quantitative", "scale": {"domain": [-2.9844, 2.9844], "nice": false, "zero": false}}}},
{"data": {"values": [{}]}, "mark": {"type": "rule", "color": "#FFFFFF", "strokeWidth": 1}, "encoding": {"x": {"datum": 1.5, "type": "quantitative", "scale": {"domain": [-2.9844, 2.9844], "nice": false, "zero": false}}}},
{"data": {"values": [{}]}, "mark": {"type": "rule", "color": "#FFFFFF", "strokeWidth": 1}, "encoding": {"x": {"datum": 2.5, "type": "quantitative", "scale": {"domain": [-2.9844, 2.9844], "nice": false, "zero": false}}}},
{"data": {"name": "qq"}, "mark": {"type": "circle", "size": 72, "color": "#1B66C9", "opacity": 1},
 "encoding": {
  "x": {"field": "tq", "type": "quantitative", "title": "Theoretical Quantiles", "scale": {"domain": [-2.9844, 2.9844], "nice": false, "zero": false}},
  "y": {"field": "sv", "type": "quantitative", "title": "Standardized residuals", "scale": {"domain": [-3.0504, 3.4233], "nice": false, "zero": false}}}},
{"data": {"name": "qqline"}, "mark": {"type": "line", "color": "#8C8CFF", "strokeDash": [6,5], "strokeWidth": 1.2, "clip": true},
 "encoding": {
  "x": {"field": "lx", "type": "quantitative", "title": "Theoretical Quantiles", "scale": {"domain": [-2.9844, 2.9844], "nice": false, "zero": false}},
  "y": {"field": "ly", "type": "quantitative", "title": "Standardized residuals", "scale": {"domain": [-3.0504, 3.4233], "nice": false, "zero": false}}}},
{"data": {"name": "qq"}, "transform": [{"filter": {"field": "l", "valid": true}}],
 "mark": {"type": "text", "color": "#0000FF", "fontSize": 16.5, "font": "Liberation Sans", "align": "center", "baseline": "middle", "dy": 1},
 "encoding": {
  "x": {"field": "tq", "type": "quantitative", "title": "Theoretical Quantiles", "scale": {"domain": [-2.9844, 2.9844], "nice": false, "zero": false}},
  "y": {"field": "sv", "type": "quantitative", "title": "Standardized residuals", "scale": {"domain": [-3.0504, 3.4233], "nice": false, "zero": false}},
  "text": {"field": "l"}}}
]
},
{"width": 87, "height": 270, "view": {"fill": "white", "stroke": null}, "data": {"values": [{}]}, "mark": {"type": "point", "opacity": 0}},
{
"width": 277, "height": 270,
"title": "Scale-Location",
"layer": [
{"data": {"name": "obs"}, "mark": {"type": "circle", "size": 72, "color": "#1B66C9", "opacity": 1},
 "encoding": {
  "x": {"field": "f", "type": "quantitative", "title": "Fitted values", "scale": {"domain": [-0.07, 2.6283], "nice": false, "zero": false},
        "axis": {"values": [0,0.25,0.5,0.75,1,1.25,1.5,1.75,2,2.25,2.5], "labelOverlap": false,
                 "labelExpr": "indexof([0.25,0.75,1.25,1.75,2.25], datum.value) >= 0 ? '' : format(datum.value, '.1f')",
                 "gridWidth": {"condition": {"test": "indexof([0.25,0.75,1.25,1.75,2.25], datum.value) >= 0", "value": 1}, "value": 2},
                 "tickOpacity": {"condition": {"test": "indexof([0.25,0.75,1.25,1.75,2.25], datum.value) >= 0", "value": 0}, "value": 1}}},
  "y": {"field": "s", "type": "quantitative", "title": "√|Standardized residuals|", "scale": {"domain": [-0.0713, 1.8565], "nice": false, "zero": false},
        "axis": {"values": [0,0.25,0.5,0.75,1,1.25,1.5,1.75], "titleX": -45, "labelOverlap": false,
                 "labelExpr": "indexof([0.25,0.75,1.25,1.75], datum.value) >= 0 ? '' : format(datum.value, '.1f')",
                 "gridWidth": {"condition": {"test": "indexof([0.25,0.75,1.25,1.75], datum.value) >= 0", "value": 1}, "value": 2},
                 "tickOpacity": {"condition": {"test": "indexof([0.25,0.75,1.25,1.75], datum.value) >= 0", "value": 0}, "value": 1}}}
 }},
{"data": {"name": "s3"}, "mark": {"type": "line", "color": "#000000", "strokeDash": [8,5], "strokeWidth": 1.5},
 "encoding": {
  "x": {"field": "x", "type": "quantitative", "title": "Fitted values", "scale": {"domain": [-0.07, 2.6283], "nice": false, "zero": false}},
  "y": {"field": "y", "type": "quantitative", "title": "√|Standardized residuals|", "scale": {"domain": [-0.0713, 1.8565], "nice": false, "zero": false}}}},
{"data": {"name": "obs"}, "transform": [{"filter": {"field": "lr", "valid": true}}],
 "mark": {"type": "text", "color": "#0000FF", "fontSize": 16.5, "font": "Liberation Sans", "align": "center", "baseline": "middle", "dy": 1},
 "encoding": {
  "x": {"field": "f", "type": "quantitative", "title": "Fitted values", "scale": {"domain": [-0.07, 2.6283], "nice": false, "zero": false}},
  "y": {"field": "s", "type": "quantitative", "title": "√|Standardized residuals|", "scale": {"domain": [-0.0713, 1.8565], "nice": false, "zero": false}},
  "text": {"field": "lr"}}}
]
}
],
"spacing": 0,
"bounds": "flush"
},
{
"hconcat": [
{
"width": 279, "height": 268,
"title": "Cook's distance",
"layer": [
{"data": {"name": "obs"}, "mark": {"type": "rule", "color": "#1B66C9", "strokeWidth": 2},
 "encoding": {
  "x": {"field": "i", "type": "quantitative", "title": "Obs. Number", "scale": {"domain": [-6.45, 157.45], "nice": false, "zero": false},
        "axis": {"values": [0,25,50,75,100,125,150], "labelOverlap": false,
                 "labelExpr": "indexof([25,75,125], datum.value) >= 0 ? '' : format(datum.value, 'd')",
                 "gridWidth": {"condition": {"test": "indexof([25,75,125], datum.value) >= 0", "value": 1}, "value": 2},
                 "tickOpacity": {"condition": {"test": "indexof([25,75,125], datum.value) >= 0", "value": 0}, "value": 1}}},
  "y": {"field": "c", "type": "quantitative", "title": "Cook's distance", "scale": {"domain": [-0.002788, 0.058543], "nice": false, "zero": false},
        "axis": {"values": [0,0.01,0.02,0.03,0.04,0.05], "titleX": -44, "labelOverlap": false,
                 "labelExpr": "indexof([0.01,0.03,0.05], datum.value) >= 0 ? '' : format(datum.value, '.2f')",
                 "gridWidth": {"condition": {"test": "indexof([0.01,0.03,0.05], datum.value) >= 0", "value": 1}, "value": 2},
                 "tickOpacity": {"condition": {"test": "indexof([0.01,0.03,0.05], datum.value) >= 0", "value": 0}, "value": 1}}},
  "y2": {"datum": 0}
 }},
{"data": {"name": "obs"}, "transform": [{"filter": {"field": "lc", "valid": true}}],
 "mark": {"type": "text", "color": "#0000FF", "fontSize": 16.5, "font": "Liberation Sans", "align": "center", "baseline": "middle", "dy": 1},
 "encoding": {
  "x": {"field": "i", "type": "quantitative", "title": "Obs. Number", "scale": {"domain": [-6.45, 157.45], "nice": false, "zero": false}},
  "y": {"field": "c", "type": "quantitative", "title": "Cook's distance", "scale": {"domain": [-0.002788, 0.058543], "nice": false, "zero": false}},
  "text": {"field": "lc"}}}
]
},
{"width": 72, "height": 268, "view": {"fill": "white", "stroke": null}, "data": {"values": [{}]}, "mark": {"type": "point", "opacity": 0}},
{
"width": 293, "height": 268,
"title": "Residuals vs Leverage",
"layer": [
{"data": {"name": "obs"}, "mark": {"type": "circle", "size": 72, "color": "#1B66C9", "opacity": 1},
 "encoding": {
  "x": {"field": "h", "type": "quantitative", "title": "Leverage", "scale": {"domain": [-0.0013964, 0.0293244], "nice": false, "zero": false},
        "axis": {"values": [0,0.005,0.01,0.015,0.02,0.025], "labelOverlap": false,
                 "labelExpr": "indexof([0.005,0.015,0.025], datum.value) >= 0 ? '' : format(datum.value, '.2f')",
                 "gridWidth": {"condition": {"test": "indexof([0.005,0.015,0.025], datum.value) >= 0", "value": 1}, "value": 2},
                 "tickOpacity": {"condition": {"test": "indexof([0.005,0.015,0.025], datum.value) >= 0", "value": 0}, "value": 1}}},
  "y": {"field": "r", "type": "quantitative", "title": "Standardized Residuals", "scale": {"domain": [-3.0504, 3.4233], "nice": false, "zero": false},
        "axis": {"values": [-3,-2.5,-2,-1.5,-1,-0.5,0,0.5,1,1.5,2,2.5,3], "titleX": -31, "labelOverlap": false,
                 "labelExpr": "indexof([-2.5,-1.5,-0.5,0.5,1.5,2.5], datum.value) >= 0 ? '' : replace(format(datum.value, 'd'), '\u2212', '-')",
                 "gridWidth": {"condition": {"test": "indexof([-2.5,-1.5,-0.5,0.5,1.5,2.5], datum.value) >= 0", "value": 1}, "value": 2},
                 "tickOpacity": {"condition": {"test": "indexof([-2.5,-1.5,-0.5,0.5,1.5,2.5], datum.value) >= 0", "value": 0}, "value": 1}}}
 }},
{"data": {"values": [{}]}, "mark": {"type": "rule", "color": "#8C8CFF", "strokeDash": [6,5], "strokeWidth": 1.2},
 "encoding": {"y": {"datum": 0, "type": "quantitative", "scale": {"domain": [-3.0504, 3.4233], "nice": false, "zero": false}}}},
{"data": {"name": "s5"}, "mark": {"type": "line", "color": "#000000", "strokeDash": [8,5], "strokeWidth": 1.5},
 "encoding": {
  "x": {"field": "x", "type": "quantitative", "title": "Leverage", "scale": {"domain": [-0.0013964, 0.0293244], "nice": false, "zero": false}},
  "y": {"field": "y", "type": "quantitative", "title": "Standardized Residuals", "scale": {"domain": [-3.0504, 3.4233], "nice": false, "zero": false}}}},
{"data": {"name": "obs"}, "transform": [{"filter": {"field": "lc", "valid": true}}],
 "mark": {"type": "text", "color": "#0000FF", "fontSize": 16.5, "font": "Liberation Sans", "align": "center", "baseline": "middle", "dy": 1},
 "encoding": {
  "x": {"field": "h", "type": "quantitative", "title": "Leverage", "scale": {"domain": [-0.0013964, 0.0293244], "nice": false, "zero": false}},
  "y": {"field": "r", "type": "quantitative", "title": "Standardized Residuals", "scale": {"domain": [-3.0504, 3.4233], "nice": false, "zero": false}},
  "text": {"field": "lc"}}}
]
},
{"width": 91, "height": 268, "view": {"fill": "white", "stroke": null}, "data": {"values": [{}]}, "mark": {"type": "point", "opacity": 0}},
{
"width": 274, "height": 268,
"title": "Cook's dist vs Leverage",
"layer": [
{"data": {"name": "obs"}, "mark": {"type": "circle", "size": 72, "color": "#1B66C9", "opacity": 1},
 "encoding": {
  "x": {"field": "h", "type": "quantitative", "title": "Leverage", "scale": {"domain": [-0.0013964, 0.0293244], "nice": false, "zero": false},
        "axis": {"values": [0,0.005,0.01,0.015,0.02,0.025], "labelOverlap": false,
                 "labelExpr": "indexof([0.005,0.015,0.025], datum.value) >= 0 ? '' : format(datum.value, '.2f')",
                 "gridWidth": {"condition": {"test": "indexof([0.005,0.015,0.025], datum.value) >= 0", "value": 1}, "value": 2},
                 "tickOpacity": {"condition": {"test": "indexof([0.005,0.015,0.025], datum.value) >= 0", "value": 0}, "value": 1}}},
  "y": {"field": "c", "type": "quantitative", "title": "Cook's distance", "scale": {"domain": [-0.002788, 0.058543], "nice": false, "zero": false},
        "axis": {"values": [0,0.01,0.02,0.03,0.04,0.05], "titleX": -48, "labelOverlap": false,
                 "labelExpr": "indexof([0.01,0.03,0.05], datum.value) >= 0 ? '' : format(datum.value, '.2f')",
                 "gridWidth": {"condition": {"test": "indexof([0.01,0.03,0.05], datum.value) >= 0", "value": 1}, "value": 2},
                 "tickOpacity": {"condition": {"test": "indexof([0.01,0.03,0.05], datum.value) >= 0", "value": 0}, "value": 1}}}
 }},
{"data": {"name": "cl"}, "mark": {"type": "line", "color": "#8C8CFF", "strokeDash": [6,5], "strokeWidth": 1.2, "clip": true},
 "encoding": {
  "x": {"field": "h", "type": "quantitative", "title": "Leverage", "scale": {"domain": [-0.0013964, 0.0293244], "nice": false, "zero": false}},
  "y": {"field": "c", "type": "quantitative", "title": "Cook's distance", "scale": {"domain": [-0.002788, 0.058543], "nice": false, "zero": false}},
  "detail": {"field": "b", "type": "nominal"}}},
{"data": {"name": "s6"}, "mark": {"type": "line", "color": "#000000", "strokeDash": [8,5], "strokeWidth": 1.5},
 "encoding": {
  "x": {"field": "x", "type": "quantitative", "title": "Leverage", "scale": {"domain": [-0.0013964, 0.0293244], "nice": false, "zero": false}},
  "y": {"field": "y", "type": "quantitative", "title": "Cook's distance", "scale": {"domain": [-0.002788, 0.058543], "nice": false, "zero": false}}}},
{"data": {"name": "obs"}, "transform": [{"filter": {"field": "lc", "valid": true}}],
 "mark": {"type": "text", "color": "#0000FF", "fontSize": 16.5, "font": "Liberation Sans", "align": "center", "baseline": "middle", "dy": 1},
 "encoding": {
  "x": {"field": "h", "type": "quantitative", "title": "Leverage", "scale": {"domain": [-0.0013964, 0.0293244], "nice": false, "zero": false}},
  "y": {"field": "c", "type": "quantitative", "title": "Cook's distance", "scale": {"domain": [-0.002788, 0.058543], "nice": false, "zero": false}},
  "text": {"field": "lc"}}}
]
}
],
"spacing": 0,
"bounds": "flush"
}
]
}
